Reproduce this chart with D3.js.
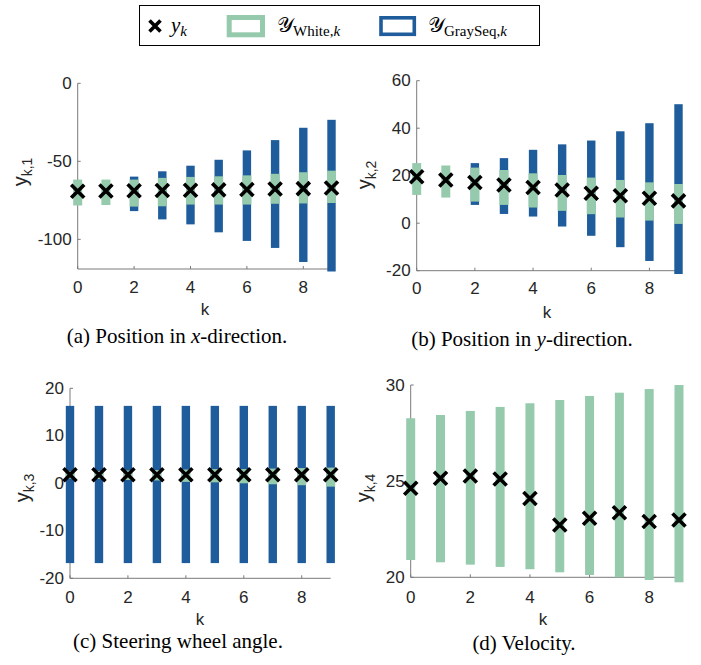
<!DOCTYPE html>
<html>
<head>
<meta charset="utf-8">
<script src="https://cdn.jsdelivr.net/npm/d3@7"></script>
<style>
  body { margin: 0; background: #fff; }
  svg { display: block; }
</style>
</head>
<body>
<svg id="fig" width="701" height="665"></svg>
<script>
// time steps
const ks = d3.range(10);

// (a) position in x-direction
const yk1 = [-69.2, -69.0, -68.9, -68.7, -68.5, -68.3, -68.1, -67.8, -67.5, -67.1];
const white1Hi = [-61.7, -61.7, -61.7, -60.6, -60.0, -59.6, -59.0, -58.0, -57.0, -56.0];
const white1Lo = [-78.3, -78.0, -79.0, -78.8, -77.7, -77.7, -77.7, -77.2, -77.0, -76.7];
const gray1Hi = [null, null, -59.8, -56.4, -52.8, -49.0, -43.0, -36.4, -28.5, -23.4];
const gray1Lo = [null, null, -81.9, -87.2, -90.4, -95.5, -101.0, -105.5, -114.5, -120.6];

// (b) position in y-direction
const yk2 = [19.6, 18.2, 17.1, 16.1, 15.0, 14.0, 12.6, 11.6, 10.5, 9.4];
const white2Hi = [25.3, 24.3, 23.4, 22.4, 21.0, 20.3, 19.2, 18.2, 17.2, 16.5];
const white2Lo = [11.9, 10.8, 9.1, 7.7, 6.6, 5.2, 3.8, 2.4, 1.1, -0.3];
const gray2Hi = [null, null, 25.3, 27.4, 30.9, 33.2, 34.8, 38.7, 42.1, 50.1];
const gray2Lo = [null, null, 7.7, 3.9, 2.8, -1.4, -5.3, -10.1, -15.9, -21.4];

// (c) steering wheel angle
const yk3 = [1.8, 1.8, 1.8, 1.8, 1.8, 1.8, 1.8, 1.8, 1.8, 1.8];
const white3Hi = [2.5, 2.6, 2.7, 2.8, 2.9, 3.0, 3.0, 3.1, 3.2, 3.3];
const white3Lo = [1.0, 0.9, 0.7, 0.6, 0.3, 0.2, 0.0, -0.2, -0.4, -0.7];
const gray3Hi = [16.3, 16.3, 16.3, 16.3, 16.3, 16.3, 16.3, 16.3, 16.3, 16.3];
const gray3Lo = [-16.8, -16.8, -16.8, -16.8, -16.8, -16.8, -16.8, -16.8, -16.8, -16.8];

// (d) velocity
const yk4 = [24.63, 25.15, 25.27, 25.11, 24.1, 22.72, 23.07, 23.36, 22.9, 22.98];
const white4Hi = [28.27, 28.44, 28.65, 28.86, 29.05, 29.22, 29.43, 29.6, 29.79, 30.0];
const white4Lo = [20.9, 20.78, 20.66, 20.54, 20.42, 20.26, 20.12, 20.0, 19.86, 19.74];

const xTicks = [0, 2, 4, 6, 8];

const blue = '#1f5c9b';
const green = '#96caad';
const axisCol = '#7a7a7a';
const textCol = '#262626';

const panels = [
  { yk: yk1, wHi: white1Hi, wLo: white1Lo, gHi: gray1Hi, gLo: gray1Lo,
    domain: [-119, 0], yTicks: [-100, -50, 0], sub: 'k,1',
    xr: [77.7, 331.5], yr: [269, 83.3], xtY: 287, kPos: [205, 309], yl: [27, 172],
    caption: { x: 177, y: 343, parts: ['(a) Position in ', 'x', '-direction.'] } },
  { yk: yk2, wHi: white2Hi, wLo: white2Lo, gHi: gray2Hi, gLo: gray2Lo,
    domain: [-20, 60], yTicks: [-20, 0, 20, 40, 60], sub: 'k,2',
    xr: [416.7, 678.5], yr: [270.7, 80.7], xtY: 288, kPos: [547, 312], yl: [371, 175],
    caption: { x: 522, y: 346, parts: ['(b) Position in ', 'y', '-direction.'] } },
  { yk: yk3, wHi: white3Hi, wLo: white3Lo, gHi: gray3Hi, gLo: gray3Lo,
    domain: [-20, 20], yTicks: [-20, -10, 0, 10, 20], sub: 'k,3',
    xr: [70, 330.7], yr: [578.3, 388.3], xtY: 597, kPos: [200, 619], yl: [29, 488],
    caption: { x: 178, y: 648, parts: ['(c) Steering wheel angle.'] } },
  { yk: yk4, wHi: white4Hi, wLo: white4Lo, gHi: null, gLo: null,
    domain: [20, 30], yTicks: [20, 25, 30], sub: 'k,4',
    xr: [410.7, 679], yr: [577.3, 385], xtY: 597, kPos: [543, 619], yl: [370, 488],
    caption: { x: 524, y: 650, parts: ['(d) Velocity.'] } }
];

const svg = d3.select('#fig');

function cross(g, cx, cy, r, w) {
  g.append('path')
    .attr('d', `M${cx - r},${cy - r}L${cx + r},${cy + r}M${cx - r},${cy + r}L${cx + r},${cy - r}`)
    .attr('stroke', '#000')
    .attr('stroke-width', w)
    .attr('fill', 'none');
}

panels.forEach(p => {
  const x = d3.scaleLinear().domain([0, 9]).range(p.xr);
  const y = d3.scaleLinear().domain(p.domain).range(p.yr);
  const g = svg.append('g');

  // axes (box off, ticks pointing inward)
  g.append('line')
    .attr('x1', p.xr[0]).attr('x2', p.xr[1])
    .attr('y1', p.yr[0]).attr('y2', p.yr[0])
    .attr('stroke', axisCol).attr('stroke-width', 1);
  g.append('line')
    .attr('x1', p.xr[0]).attr('x2', p.xr[0])
    .attr('y1', p.yr[0]).attr('y2', p.yr[1])
    .attr('stroke', axisCol).attr('stroke-width', 1);

  g.selectAll('.xt').data(xTicks).enter().append('line')
    .attr('x1', d => x(d)).attr('x2', d => x(d))
    .attr('y1', p.yr[0]).attr('y2', p.yr[0] - 3)
    .attr('stroke', axisCol);
  g.selectAll('.yt').data(p.yTicks).enter().append('line')
    .attr('x1', p.xr[0]).attr('x2', p.xr[0] + 3)
    .attr('y1', d => y(d)).attr('y2', d => y(d))
    .attr('stroke', axisCol);

  g.selectAll('.xtl').data(xTicks).enter().append('text')
    .attr('x', d => x(d)).attr('y', p.xtY)
    .attr('text-anchor', 'middle').attr('dominant-baseline', 'central')
    .attr('font-family', 'Liberation Sans, Arial, sans-serif').attr('font-size', 17)
    .attr('fill', textCol)
    .text(d => d);
  g.selectAll('.ytl').data(p.yTicks).enter().append('text')
    .attr('x', p.xr[0] - 6).attr('y', d => y(d))
    .attr('text-anchor', 'end').attr('dominant-baseline', 'central')
    .attr('font-family', 'Liberation Sans, Arial, sans-serif').attr('font-size', 17)
    .attr('fill', textCol)
    .text(d => d);

  // GraySeq intervals underneath
  if (p.gHi) {
    g.selectAll('.gb').data(ks.filter(k => p.gHi[k] != null)).enter().append('rect')
      .attr('x', k => x(k) - 4.2).attr('width', 8.4)
      .attr('y', k => y(p.gHi[k]))
      .attr('height', k => y(p.gLo[k]) - y(p.gHi[k]))
      .attr('fill', blue);
  }
  // White intervals on top
  g.selectAll('.wb').data(ks).enter().append('rect')
    .attr('x', k => x(k) - 4.5).attr('width', 9)
    .attr('y', k => y(p.wHi[k]))
    .attr('height', k => y(p.wLo[k]) - y(p.wHi[k]))
    .attr('fill', green);

  // measured outputs
  ks.forEach(k => cross(g, x(k), y(p.yk[k]), 6.5, 3.6));

  // axis labels
  g.append('text')
    .attr('x', p.kPos[0]).attr('y', p.kPos[1])
    .attr('text-anchor', 'middle').attr('dominant-baseline', 'central')
    .attr('font-family', 'Liberation Sans, Arial, sans-serif').attr('font-size', 17)
    .attr('fill', textCol)
    .text('k');

  const yl = g.append('text')
    .attr('transform', `translate(${p.yl[0]},${p.yl[1]}) rotate(-90)`)
    .attr('text-anchor', 'middle')
    .attr('font-family', 'Liberation Sans, Arial, sans-serif').attr('font-size', 20)
    .attr('fill', textCol);
  yl.append('tspan').text('y');
  yl.append('tspan').attr('dy', 5).attr('font-size', 14).text(p.sub);

  // caption
  const cap = svg.append('text')
    .attr('x', p.caption.x).attr('y', p.caption.y)
    .attr('text-anchor', 'middle')
    .attr('font-family', 'Liberation Serif, Times New Roman, serif').attr('font-size', 21)
    .attr('fill', '#000');
  p.caption.parts.forEach((t, i) => {
    const s = cap.append('tspan').text(t);
    if (i === 1) s.attr('font-style', 'italic');
  });
});

// legend
const lg = svg.append('g');
lg.append('rect')
  .attr('x', 139.5).attr('y', 5.5).attr('width', 400).attr('height', 40)
  .attr('fill', '#fff').attr('stroke', '#000').attr('stroke-width', 1);
cross(lg, 155, 26, 5.5, 3.6);
const serif = 'Liberation Serif, Times New Roman, serif';
const t1 = lg.append('text').attr('x', 171).attr('y', 32)
  .attr('font-family', serif).attr('font-size', 21).attr('font-style', 'italic');
t1.append('tspan').text('y');
t1.append('tspan').attr('dy', 4).attr('font-size', 15).text('k');

lg.append('rect')
  .attr('x', 229.2).attr('y', 17.5).attr('width', 33.3).attr('height', 17.3)
  .attr('fill', '#fff').attr('stroke', green).attr('stroke-width', 5);
const t2 = lg.append('text').attr('x', 277).attr('y', 32)
  .attr('font-family', serif).attr('font-size', 21);
t2.append('tspan').text('𝒴');
t2.append('tspan').attr('dy', 4).attr('font-size', 15).text('White,');
t2.append('tspan').attr('font-size', 15).attr('font-style', 'italic').text('k');

lg.append('rect')
  .attr('x', 381).attr('y', 17.8).attr('width', 33.3).attr('height', 16.5)
  .attr('fill', '#fff').attr('stroke', blue).attr('stroke-width', 3.6);
const t3 = lg.append('text').attr('x', 428).attr('y', 32)
  .attr('font-family', serif).attr('font-size', 21);
t3.append('tspan').text('𝒴');
t3.append('tspan').attr('dy', 4).attr('font-size', 15).text('GraySeq,');
t3.append('tspan').attr('font-size', 15).attr('font-style', 'italic').text('k');
</script>
</body>
</html>
